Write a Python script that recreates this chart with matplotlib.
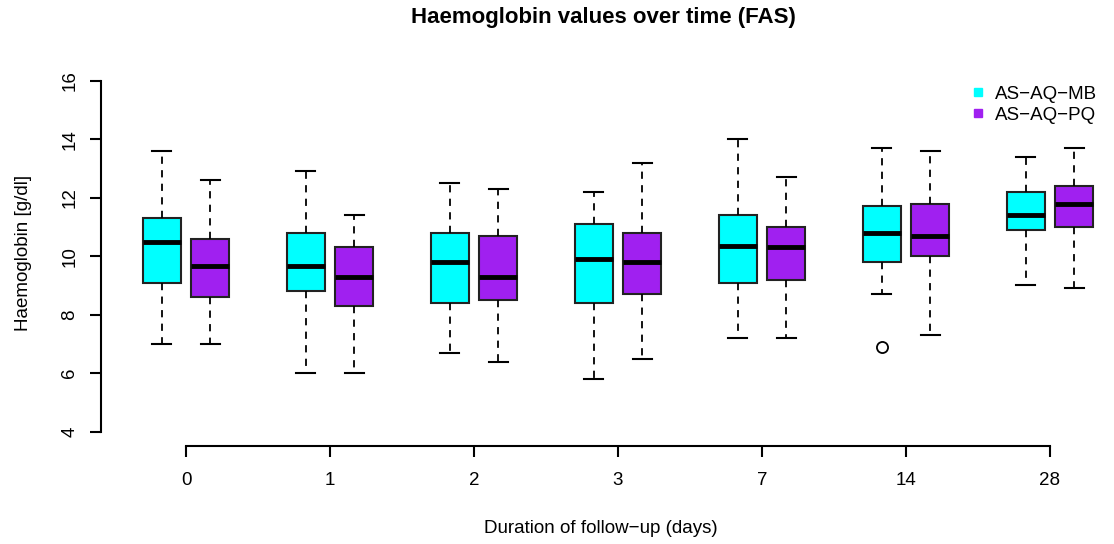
import matplotlib
matplotlib.use("Agg")
import matplotlib.pyplot as plt
from matplotlib.lines import Line2D

plt.rcParams['font.family'] = ['Liberation Sans', 'DejaVu Sans']

days = ["0", "1", "2", "3", "7", "14", "28"]
groups = ["AS\u2212AQ\u2212MB", "AS\u2212AQ\u2212PQ"]
colors = ["#00FFFF", "#A020F0"]

# five-number summaries, one list per arm
mb_low = [7.0, 6.0, 6.7, 5.8, 7.2, 8.7, 9.0]
mb_q1 = [9.1, 8.8, 8.4, 8.4, 9.1, 9.8, 10.9]
mb_med = [10.5, 9.65, 9.8, 9.9, 10.35, 10.8, 11.4]
mb_q3 = [11.3, 10.8, 10.8, 11.1, 11.4, 11.7, 12.2]
mb_high = [13.6, 12.9, 12.5, 12.2, 14.0, 13.7, 13.4]
mb_out = [[], [], [], [], [], [6.9], []]

pq_low = [7.0, 6.0, 6.4, 6.5, 7.2, 7.3, 8.9]
pq_q1 = [8.6, 8.3, 8.5, 8.7, 9.2, 10.0, 11.0]
pq_med = [9.65, 9.3, 9.3, 9.8, 10.3, 10.7, 11.8]
pq_q3 = [10.6, 10.3, 10.7, 10.8, 11.0, 11.8, 12.4]
pq_high = [12.6, 11.4, 12.3, 13.2, 12.7, 13.6, 13.7]
pq_out = [[], [], [], [], [], [], []]


def make_stats(lo, q1, med, q3, hi, out):
    return [dict(whislo=a, q1=b, med=c, q3=d, whishi=e, fliers=f)
            for a, b, c, d, e, f in zip(lo, q1, med, q3, hi, out)]


fig = plt.figure(figsize=(11.14, 5.44), dpi=100)
W, H = 1114, 544
ax = fig.add_axes([100.7 / W, (H - 446) / H, (1100 - 100.7) / W, (446 - 60) / H])

pos = list(range(len(days)))
off = 0.167
width = 0.264
arms = [make_stats(mb_low, mb_q1, mb_med, mb_q3, mb_high, mb_out),
        make_stats(pq_low, pq_q1, pq_med, pq_q3, pq_high, pq_out)]

for k, stats in enumerate(arms):
    p = [x + (2 * k - 1) * off for x in pos]
    ax.bxp(stats, positions=p, widths=width, patch_artist=True,
           capwidths=width * 0.5, manage_ticks=False,
           boxprops=dict(facecolor=colors[k], edgecolor="#222222", linewidth=1.5),
           medianprops=dict(color="black", linewidth=3.5),
           whiskerprops=dict(color="black", linewidth=1.3, linestyle=(0, (4, 3.5))),
           capprops=dict(color="black", linewidth=1.5),
           flierprops=dict(marker="o", markerfacecolor="none",
                           markeredgecolor="black", markersize=8, markeredgewidth=1.3))

ax.set_xlim((100.7 - 186) / 144, (1100 - 186) / 144)
ax.set_ylim(16 - (446 - 80.7) / 29.25, 16 + (80.7 - 60) / 29.25)

for s in ["top", "right"]:
    ax.spines[s].set_visible(False)
ax.spines["left"].set_bounds(4, 16)
ax.spines["bottom"].set_bounds(0, 6)
ax.spines["left"].set_linewidth(1.5)
ax.spines["bottom"].set_linewidth(1.5)

ax.set_yticks([4, 6, 8, 10, 12, 14, 16])
ax.set_xticks(pos)
ax.set_xticklabels(days)
ax.tick_params(axis="both", length=8, width=1.5, labelsize=13.5)
ax.tick_params(axis="x", pad=11)
ax.tick_params(axis="y", pad=8)
for t in ax.get_yticklabels():
    t.set_rotation(90)
    t.set_va("center")

ax.set_ylabel("Haemoglobin [g/dl]", fontsize=13.5, labelpad=21)
ax.set_xlabel("Duration of follow\u2212up (days)", fontsize=13.5, labelpad=22)
fig.text(603 / W, 1 - 18 / H, "Haemoglobin values over time (FAS)", fontsize=16,
         fontweight="bold", ha="center", va="center")

handles = [Line2D([], [], linestyle="none", marker="s", markersize=6,
                  markerfacecolor=c, markeredgecolor=c) for c in colors]
ax.legend(handles, groups, loc="upper right", bbox_to_anchor=(1114 / W, 1 - 69 / H),
          bbox_transform=fig.transFigure, frameon=False, fontsize=13.5,
          handletextpad=0.4, handlelength=1.0, labelspacing=0.2)

fig.savefig("out.png", dpi=100)
